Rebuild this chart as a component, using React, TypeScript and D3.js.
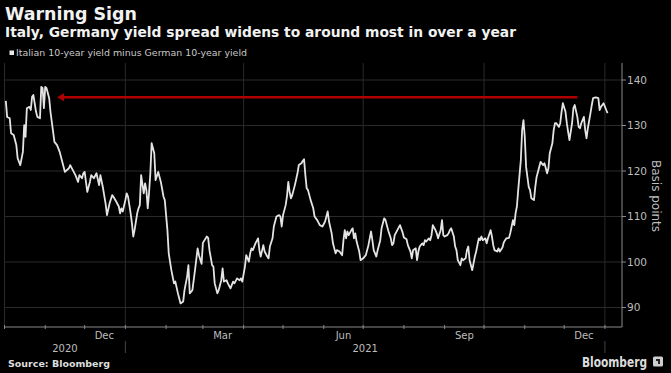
import React from "react";
import * as d3 from "d3";

const dates: string[] = [
  "2020-10-02","2020-10-03","2020-10-05","2020-10-06","2020-10-08","2020-10-10","2020-10-11","2020-10-13","2020-10-15","2020-10-16",
  "2020-10-17","2020-10-18","2020-10-20","2020-10-21","2020-10-22","2020-10-23","2020-10-25","2020-10-26","2020-10-28","2020-10-29",
  "2020-10-30","2020-10-31","2020-11-01","2020-11-02","2020-11-04","2020-11-05","2020-11-07","2020-11-08","2020-11-10","2020-11-12",
  "2020-11-14","2020-11-16","2020-11-19","2020-11-20","2020-11-22","2020-11-24","2020-11-26","2020-11-27","2020-11-29","2020-11-30",
  "2020-12-01","2020-12-03","2020-12-05","2020-12-06","2020-12-08","2020-12-10","2020-12-12","2020-12-13","2020-12-15","2020-12-17",
  "2020-12-18","2020-12-20","2020-12-22","2020-12-23","2020-12-25","2020-12-27","2020-12-28","2020-12-29","2020-12-30",
  "2021-01-01","2021-01-02","2021-01-03","2021-01-05","2021-01-06","2021-01-07","2021-01-08","2021-01-10","2021-01-11","2021-01-12",
  "2021-01-13","2021-01-15","2021-01-16","2021-01-17","2021-01-18","2021-01-19","2021-01-20","2021-01-21","2021-01-23","2021-01-24",
  "2021-01-26","2021-01-28","2021-01-30","2021-01-31","2021-02-02","2021-02-03","2021-02-05","2021-02-07","2021-02-08","2021-02-10",
  "2021-02-12","2021-02-14","2021-02-15","2021-02-17","2021-02-18","2021-02-19","2021-02-21","2021-02-23","2021-02-25","2021-02-26",
  "2021-02-28","2021-03-01","2021-03-04","2021-03-05","2021-03-06","2021-03-08","2021-03-09","2021-03-10","2021-03-12","2021-03-13",
  "2021-03-15","2021-03-16","2021-03-17","2021-03-19","2021-03-20","2021-03-22","2021-03-24","2021-03-25","2021-03-27","2021-03-29",
  "2021-03-30","2021-03-31","2021-04-02","2021-04-03","2021-04-05","2021-04-06","2021-04-07","2021-04-08","2021-04-10","2021-04-12",
  "2021-04-13","2021-04-14","2021-04-16","2021-04-17","2021-04-19","2021-04-20","2021-04-21","2021-04-23","2021-04-24","2021-04-26",
  "2021-04-28","2021-04-29","2021-04-30","2021-05-01","2021-05-03","2021-05-04","2021-05-05","2021-05-06","2021-05-07","2021-05-08",
  "2021-05-10","2021-05-12","2021-05-13","2021-05-15","2021-05-16","2021-05-17","2021-05-18","2021-05-19","2021-05-20","2021-05-22",
  "2021-05-24","2021-05-25","2021-05-27","2021-05-29","2021-05-31","2021-06-02","2021-06-04","2021-06-05","2021-06-07","2021-06-08",
  "2021-06-10","2021-06-11","2021-06-13","2021-06-15","2021-06-16","2021-06-17","2021-06-18","2021-06-19","2021-06-20","2021-06-22",
  "2021-06-23","2021-06-24","2021-06-25","2021-06-26","2021-06-28","2021-06-29","2021-07-01","2021-07-03","2021-07-05","2021-07-07",
  "2021-07-08","2021-07-09","2021-07-11","2021-07-12","2021-07-14","2021-07-15","2021-07-17","2021-07-18","2021-07-20","2021-07-22",
  "2021-07-23","2021-07-24","2021-07-25","2021-07-27","2021-07-29","2021-07-31","2021-08-01","2021-08-03","2021-08-04","2021-08-06",
  "2021-08-07","2021-08-08","2021-08-10","2021-08-11","2021-08-12","2021-08-13","2021-08-15","2021-08-16","2021-08-17","2021-08-18",
  "2021-08-20","2021-08-21","2021-08-22","2021-08-23","2021-08-25","2021-08-26","2021-08-27","2021-08-29","2021-08-30","2021-08-31",
  "2021-09-01","2021-09-03","2021-09-04","2021-09-05","2021-09-06","2021-09-08","2021-09-09","2021-09-10","2021-09-11","2021-09-13",
  "2021-09-14","2021-09-15","2021-09-17","2021-09-18","2021-09-19","2021-09-20","2021-09-22","2021-09-23","2021-09-24","2021-09-25",
  "2021-09-27","2021-09-28","2021-09-29","2021-09-30","2021-10-02","2021-10-03","2021-10-04","2021-10-06","2021-10-07","2021-10-08",
  "2021-10-09","2021-10-11","2021-10-12","2021-10-13","2021-10-15","2021-10-16","2021-10-17","2021-10-18","2021-10-20","2021-10-21",
  "2021-10-22","2021-10-23","2021-10-24","2021-10-25","2021-10-26","2021-10-27","2021-10-29","2021-10-30","2021-10-31","2021-11-01",
  "2021-11-02","2021-11-04","2021-11-05","2021-11-06","2021-11-08","2021-11-09","2021-11-10","2021-11-12","2021-11-13","2021-11-15",
  "2021-11-16","2021-11-18","2021-11-19","2021-11-20","2021-11-22","2021-11-23","2021-11-24","2021-11-25","2021-11-27","2021-11-28",
  "2021-11-29","2021-11-30","2021-12-02","2021-12-03","2021-12-04","2021-12-05","2021-12-07","2021-12-08","2021-12-09","2021-12-11",
  "2021-12-12","2021-12-13","2021-12-14","2021-12-16","2021-12-17","2021-12-18","2021-12-19","2021-12-21","2021-12-22","2021-12-23",
  "2021-12-25","2021-12-27","2021-12-28","2021-12-29","2021-12-30","2021-12-31","2022-01-02","2022-01-03",
];

const spread: number[] = [
  135.4,131.9,131.6,128.3,127.9,125.7,122.8,121.3,124.2,130.1,
  127.5,133.8,134.1,133.4,136.3,136.7,133.0,131.9,131.6,138.5,
  138.2,133.8,138.5,138.2,136.0,133.0,128.6,126.4,125.7,124.2,
  122.0,119.8,120.6,121.3,120.2,119.1,117.6,119.1,118.4,119.5,
  119.8,115.4,117.6,119.1,118.4,119.5,116.9,119.1,116.2,112.7,
  110.3,112.9,114.7,114.3,113.3,112.2,110.7,111.8,111.1,
  113.6,115.1,114.4,110.7,108.5,105.6,107.0,110.7,111.8,112.5,
  119.1,115.1,117.3,115.8,111.8,115.1,119.5,126.1,123.9,118.0,
  119.8,117.6,114.4,113.6,107.0,101.9,98.2,95.3,95.7,93.1,
  90.9,91.3,93.8,96.8,99.3,93.1,93.8,98.2,103.0,101.5,
  99.6,104.2,105.6,105.3,102.6,99.3,99.0,95.3,93.1,93.8,
  96.0,98.6,95.7,96.0,95.3,94.2,95.7,95.3,96.4,96.0,
  96.4,95.7,99.0,101.5,100.1,101.9,103.0,102.6,104.1,105.2,
  102.6,101.2,103.7,102.3,101.2,100.8,103.4,105.2,107.8,110.0,
  110.3,110.0,107.8,110.3,112.5,114.4,117.6,115.4,114.0,114.7,
  116.9,119.5,121.3,121.7,122.2,122.6,119.1,116.2,115.8,113.6,
  111.8,110.0,109.2,108.1,107.8,108.9,111.1,108.9,106.3,104.1,
  101.9,102.6,102.3,101.5,104.8,107.0,105.2,106.7,105.9,107.0,
  107.4,105.2,106.3,104.5,102.3,100.4,100.8,101.5,103.7,106.7,
  104.8,102.6,101.2,102.6,104.8,107.4,109.6,109.2,107.0,105.2,
  103.7,104.1,105.9,107.0,108.1,106.5,105.4,105.0,103.7,102.3,
  100.8,102.6,103.0,100.4,102.3,103.4,104.1,103.7,104.8,104.5,
  105.2,104.8,105.9,108.1,107.0,106.3,105.2,107.0,109.2,105.9,
  105.6,105.9,106.3,107.0,107.4,105.6,103.4,102.6,100.4,99.3,
  100.8,100.4,100.8,102.6,103.4,100.4,98.2,99.7,101.2,102.3,
  105.2,104.8,105.6,104.8,105.2,104.1,105.2,107.0,105.6,103.7,
  102.6,102.3,103.0,102.3,103.2,104.3,104.8,105.2,105.3,106.4,
  107.8,109.2,108.1,110.7,112.2,115.8,122.4,129.0,131.2,127.5,
  120.9,116.5,115.8,114.0,113.6,116.5,118.7,120.9,122.0,121.3,
  121.7,119.5,120.6,123.9,126.1,129.0,130.5,130.5,129.7,130.5,
  133.0,134.9,133.0,130.5,128.6,126.8,130.5,133.8,134.5,131.9,
  129.7,129.4,130.5,131.9,129.0,127.2,129.4,132.7,134.5,136.0,
  136.2,136.0,133.4,134.1,134.5,134.9,133.4,132.7,
];

const yTicks: number[] = [90, 100, 110, 120, 130, 140];
const quarterLabels: string[] = ["Dec", "Mar", "Jun", "Sep", "Dec"];
const quarterLabelMonths: string[] = ["2020-12-16", "2021-03-16", "2021-06-16", "2021-09-16", "2021-12-16"];
const yearLabels: string[] = ["2020", "2021"];
const arrowLevel = 136.2;
const arrowStart = "2021-12-11";
const arrowEnd = "2020-11-10";

const title = "Warning Sign";
const subtitle = "Italy, Germany yield spread widens to around most in over a year";
const legendLabel = "Italian 10-year yield minus German 10-year yield";

const W = 671;
const H = 373;
const plot = { left: 4.5, right: 622, top: 63, bottom: 327 };

export default function App() {
  const parse = d3.timeParse("%Y-%m-%d");
  const data = dates.map((d, i) => ({ date: parse(d) as Date, value: spread[i] }));

  const domainStart = parse("2020-10-01") as Date;
  const domainEnd = parse("2022-01-14") as Date;
  const x = d3.scaleTime().domain([domainStart, domainEnd]).range([plot.left, plot.right]);
  const y = d3.scaleLinear().domain([90, 140]).range([307.5, 80]);

  const line = d3
    .line<{ date: Date; value: number }>()
    .x((d) => x(d.date))
    .y((d) => y(d.value))
    .curve(d3.curveLinear);

  const monthTicks = d3.timeMonth.range(d3.timeMonth.ceil(domainStart), domainEnd);
  const quarterTicks = monthTicks.filter((d) => d.getMonth() % 3 === 0);
  const yearStarts = d3.timeYear.range(d3.timeYear.ceil(domainStart), domainEnd);
  const yearBounds = [domainStart, ...yearStarts];

  const ax0 = x(parse(arrowStart) as Date);
  const ax1 = x(parse(arrowEnd) as Date);
  const ay = y(arrowLevel);

  const gridColor = "#2a2a2a";
  const axisColor = "#8a8a8a";
  const labelColor = "#bdbdbd";

  return (
    <div style={{ position: "fixed", left: 0, top: 0, width: W, height: H, background: "#000" }}>
      <svg width={W} height={H} style={{ display: "block" }} fontFamily="'DejaVu Sans', sans-serif">
        <rect x={0} y={0} width={W} height={H} fill="#000" />
        <text x={5} y={20} fill="#f2f2f2" fontSize={17.5} fontWeight="bold" textLength={132} lengthAdjust="spacingAndGlyphs">
          {title}
        </text>
        <text x={5} y={36.5} fill="#f2f2f2" fontSize={14} fontWeight="bold" textLength={511} lengthAdjust="spacingAndGlyphs">
          {subtitle}
        </text>
        <rect x={9.5} y={50.5} width={4.5} height={4.5} fill="#e8e8e8" />
        <text x={16} y={56} fill="#c8c8c8" fontSize={8.5} textLength={231} lengthAdjust="spacingAndGlyphs">
          {legendLabel}
        </text>

        {yTicks.map((t) => (
          <line key={"g" + t} x1={plot.left} x2={plot.right} y1={y(t)} y2={y(t)} stroke={gridColor} strokeWidth={1} />
        ))}
        {quarterTicks.map((d, i) => (
          <line key={"vg" + i} x1={x(d)} x2={x(d)} y1={plot.top} y2={plot.bottom} stroke={gridColor} strokeWidth={1} />
        ))}

        <line x1={plot.left} x2={plot.right} y1={plot.bottom} y2={plot.bottom} stroke={axisColor} strokeWidth={1} />
        <line x1={plot.right} x2={plot.right} y1={plot.top} y2={plot.bottom} stroke={axisColor} strokeWidth={1} />
        {monthTicks.map((d, i) => (
          <line key={"mt" + i} x1={x(d)} x2={x(d)} y1={plot.bottom - 2} y2={plot.bottom + 2} stroke={axisColor} strokeWidth={1} />
        ))}
        {yTicks.map((t) => (
          <g key={"yt" + t}>
            <line x1={plot.right} x2={plot.right + 4} y1={y(t)} y2={y(t)} stroke={axisColor} strokeWidth={1} />
            <text x={627} y={y(t)} dy="0.36em" fill={labelColor} fontSize={10.5}>
              {t}
            </text>
          </g>
        ))}
        <text
          transform={`translate(656,196) rotate(90)`}
          textAnchor="middle"
          dominantBaseline="central"
          fill={labelColor}
          fontSize={12}
        >
          Basis points
        </text>

        {quarterLabels.map((lab, i) => (
          <text key={"ql" + i} x={x(parse(quarterLabelMonths[i]) as Date)} y={339} textAnchor="middle" fill={labelColor} fontSize={10}>
            {lab}
          </text>
        ))}
        {yearLabels.map((lab, i) => (
          <text
            key={"yl" + i}
            x={(x(yearBounds[i]) + x(yearBounds[i + 1])) / 2}
            y={352}
            textAnchor="middle"
            fill={labelColor}
            fontSize={10}
          >
            {lab}
          </text>
        ))}
        {yearStarts.map((d, i) => (
          <line key={"ys" + i} x1={x(d)} x2={x(d)} y1={341} y2={353} stroke="#444" strokeWidth={1} />
        ))}

        <path d={line(data) || ""} fill="none" stroke="#e4e4e4" strokeWidth={1.8} strokeLinejoin="round" />

        <line x1={ax0} x2={ax1 + 6} y1={ay} y2={ay} stroke="#b00000" strokeWidth={2.4} />
        <path d={`M${ax1},${ay} L${ax1 + 7},${ay - 4} L${ax1 + 7},${ay + 4} Z`} fill="#b00000" />

        <text x={8} y={366.5} fill="#dedede" fontSize={9} fontWeight="bold" textLength={102} lengthAdjust="spacingAndGlyphs">
          Source: Bloomberg
        </text>
        <text x={582} y={366.5} fill="#dcdcdc" fontSize={13.5} fontWeight="bold" textLength={65} lengthAdjust="spacingAndGlyphs">
          Bloomberg
        </text>
        <rect x={653} y={356.5} width={10} height={10} rx={1.5} fill="#cfcfcf" />
        <path d="M656,359 L660,359 L660,364 L658,364 L658,361 L656,361 Z" fill="#222" />
      </svg>
    </div>
  );
}
